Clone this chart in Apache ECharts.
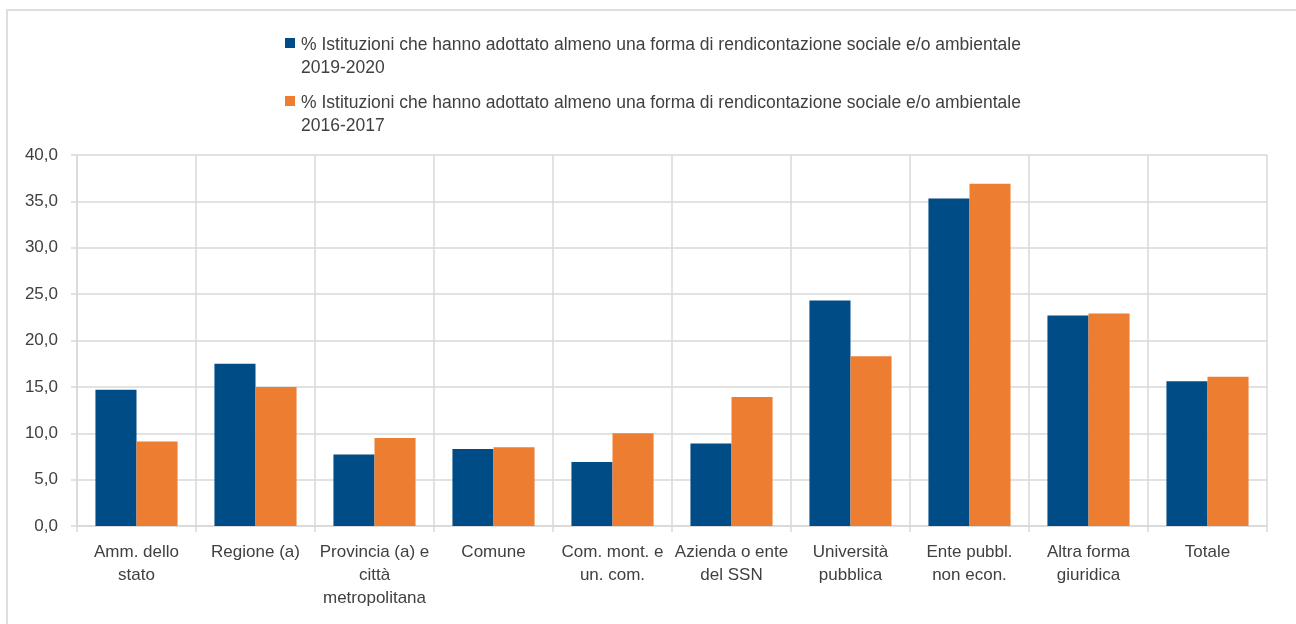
<!DOCTYPE html>
<html lang="it">
<head>
    <meta charset="UTF-8">
    <title>Rendicontazione sociale e/o ambientale</title>
    <script src="https://cdn.jsdelivr.net/npm/echarts@6/dist/echarts.min.js"></script>
    <style>
        html, body {
            margin: 0;
            padding: 0;
            background: #fff;
            overflow: hidden;
        }
        #frame {
            position: absolute;
            left: 6px;
            top: 9px;
            width: 1300px;
            height: 630px;
            border-left: 2px solid #dedede;
            border-top: 2px solid #dedede;
        }
        #chart {
            position: absolute;
            left: 0;
            top: 0;
            width: 1296px;
            height: 624px;
        }
    </style>
</head>
<body>
    <div id="frame"></div>
    <div id="chart"></div>
    <script>
        // categorie (asse x)
        const categorie = [
            'Amm. dello\nstato',
            'Regione (a)',
            'Provincia (a) e\ncittà\nmetropolitana',
            'Comune',
            'Com. mont. e\nun. com.',
            'Azienda o ente\ndel SSN',
            'Università\npubblica',
            'Ente pubbl.\nnon econ.',
            'Altra forma\ngiuridica',
            'Totale'
        ];

        const nomeSerie2019 = '% Istituzioni che hanno adottato almeno una forma di rendicontazione sociale e/o ambientale\n2019-2020';
        const nomeSerie2016 = '% Istituzioni che hanno adottato almeno una forma di rendicontazione sociale e/o ambientale\n2016-2017';

        const valori2019 = [14.7, 17.5, 7.7, 8.3, 6.9, 8.9, 24.3, 35.3, 22.7, 15.6];
        const valori2016 = [9.1, 15.0, 9.5, 8.5, 10.0, 13.9, 18.3, 36.9, 22.9, 16.1];

        const tickY = [0, 5, 10, 15, 20, 25, 30, 35, 40];

        const grigio = '#d9d9d9';
        const testo = '#404040';

        // icona della legenda allineata alla prima riga
        const iconaLegenda = 'path://M0,0 M0,4 L10,4 L10,14 L0,14 Z M0,46';

        var myChart = echarts.init(document.getElementById('chart'), null, { renderer: 'canvas' });

        var option = {
            animation: false,
            textStyle: {
                fontFamily: 'Liberation Sans, Arial, sans-serif'
            },
            legend: {
                orient: 'vertical',
                left: 285,
                top: 34,
                padding: 0,
                itemWidth: 10,
                itemHeight: 46,
                itemGap: 12,
                icon: iconaLegenda,
                data: [nomeSerie2019, nomeSerie2016],
                textStyle: {
                    fontSize: 17.5,
                    lineHeight: 23,
                    color: testo,
                    padding: [0, 0, 0, 1]
                }
            },
            grid: {
                left: 77,
                right: 29,
                top: 155,
                bottom: 98,
                containLabel: false
            },
            xAxis: {
                type: 'category',
                data: categorie,
                axisLine: {
                    show: true,
                    lineStyle: { color: grigio, width: 1.5 }
                },
                axisTick: {
                    show: true,
                    length: 6,
                    lineStyle: { color: grigio, width: 1.5 }
                },
                splitLine: {
                    show: true,
                    lineStyle: { color: grigio, width: 1.5 }
                },
                axisLabel: {
                    interval: 0,
                    margin: 15,
                    fontSize: 17,
                    lineHeight: 23,
                    color: testo
                }
            },
            yAxis: {
                type: 'value',
                min: tickY[0],
                max: tickY[tickY.length - 1],
                interval: 5,
                axisLine: {
                    show: true,
                    lineStyle: { color: grigio, width: 1.5 }
                },
                axisTick: {
                    show: true,
                    length: 6,
                    lineStyle: { color: grigio, width: 1.5 }
                },
                splitLine: {
                    show: true,
                    lineStyle: { color: grigio, width: 1.5 }
                },
                axisLabel: {
                    margin: 19,
                    fontSize: 17,
                    color: testo,
                    formatter: function (v) {
                        return v.toFixed(1).replace('.', ',');
                    }
                }
            },
            series: [
                {
                    name: nomeSerie2019,
                    type: 'bar',
                    data: valori2019,
                    barGap: '0%',
                    barCategoryGap: '31%',
                    itemStyle: { color: '#004c87' }
                },
                {
                    name: nomeSerie2016,
                    type: 'bar',
                    data: valori2016,
                    itemStyle: { color: '#ed7d31' }
                }
            ]
        };

        myChart.setOption(option);

        window.addEventListener('resize', function () {
            myChart.resize();
        });
    </script>
</body>
</html>
